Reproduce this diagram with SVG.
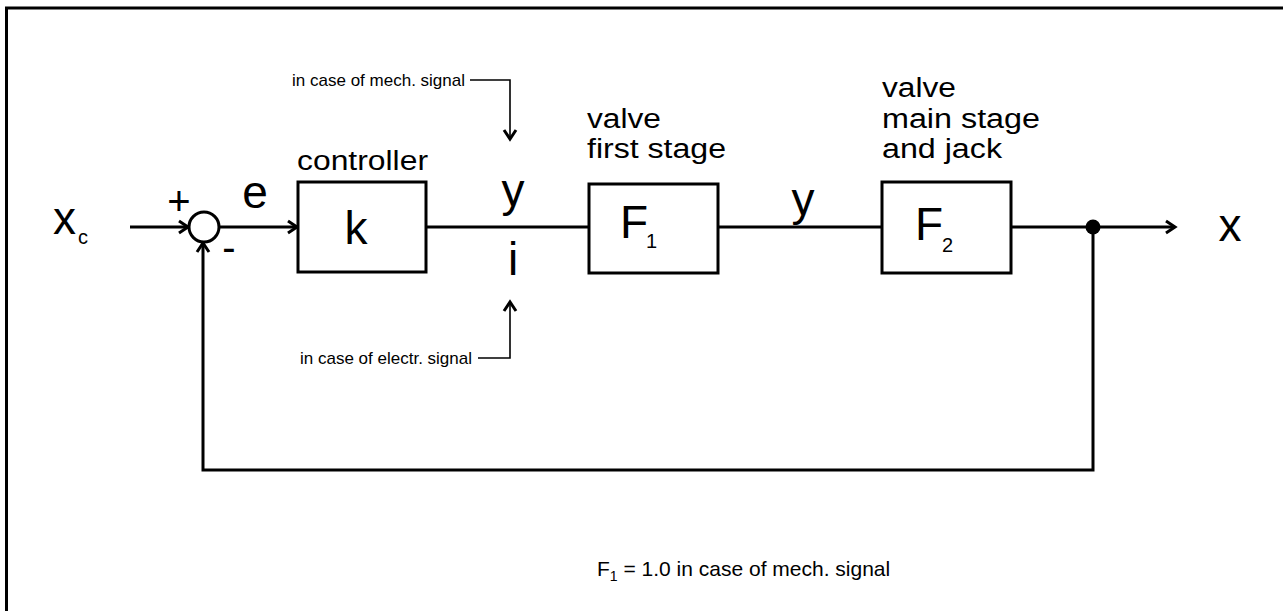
<svg xmlns="http://www.w3.org/2000/svg" width="1283" height="611" viewBox="0 0 1283 611">
<style>
.ln{fill:none;stroke:#000;stroke-width:3}
.thin{fill:none;stroke:#000;stroke-width:1.6}
.box{fill:#fff;stroke:#000;stroke-width:3}
.big{font-family:"Liberation Sans",Arial,sans-serif;font-size:46px;fill:#000}
.sub{font-family:"Liberation Sans",Arial,sans-serif;font-size:20px;fill:#000}
.lbl{font-family:"Liberation Sans",Arial,sans-serif;font-size:27px;fill:#000}
.sm{font-family:"Liberation Sans",Arial,sans-serif;font-size:17px;fill:#000}
.note{font-family:"Liberation Sans",Arial,sans-serif;font-size:21px;fill:#000}
</style>
<defs>
<marker id="ah" markerUnits="userSpaceOnUse" markerWidth="16" markerHeight="16" refX="12" refY="8" orient="auto">
<path d="M3,2 L12,8 L3,14" fill="none" stroke="#000" stroke-width="3"/>
</marker>
</defs>
<rect width="1283" height="611" fill="#fff"/>
<g id="frame">
<path d="M1283,8 L6.5,8 L6.5,611" class="ln"/>
</g>
<g id="connectors">
<line x1="130" y1="227" x2="188" y2="227" class="ln" marker-end="url(#ah)"/>
<line x1="219" y1="227" x2="297" y2="227" class="ln" marker-end="url(#ah)"/>
<line x1="426" y1="227" x2="589" y2="227" class="ln"/>
<line x1="718" y1="227" x2="882" y2="227" class="ln"/>
<line x1="1011" y1="227" x2="1175" y2="227" class="ln" marker-end="url(#ah)"/>
<path d="M1093,227 L1093,470 L203,470 L203,243" class="ln" marker-end="url(#ah)"/>
<path d="M470,80 L510,80 L510,139" class="thin" marker-end="url(#ah)"/>
<path d="M478,358 L510,358 L510,302" class="thin" marker-end="url(#ah)"/>
<circle cx="1093" cy="227" r="7.5" fill="#000"/>
</g>
<g id="sum">
<circle cx="204" cy="227" r="15" class="box"/>
<text x="179" y="215" class="big" text-anchor="middle" style="font-size:40px">+</text>
<text x="229" y="261" class="big" text-anchor="middle" style="font-size:40px">-</text>
</g>
<g id="input">
<text x="53" y="234" class="big">x</text>
<text x="78" y="244" class="sub">c</text>
</g>
<text x="255" y="208" class="big" text-anchor="middle">e</text>
<g id="controller">
<rect x="298" y="182" width="128" height="90" class="box"/>
<text x="356" y="244" class="big" text-anchor="middle">k</text>
<text x="297" y="170" class="lbl" textLength="131" lengthAdjust="spacingAndGlyphs">controller</text>
</g>
<g id="signal">
<text x="513" y="206" class="big" text-anchor="middle">y</text>
<text x="513" y="275" class="big" text-anchor="middle">i</text>
<text x="465" y="86" class="sm" text-anchor="end">in case of mech. signal</text>
<text x="472" y="364" class="sm" text-anchor="end">in case of electr. signal</text>
</g>
<g id="F1">
<rect x="589" y="184" width="129" height="89" class="box"/>
<text x="620" y="238" class="big">F</text>
<text x="646" y="248" class="sub">1</text>
<text x="587" y="128" class="lbl" textLength="74" lengthAdjust="spacingAndGlyphs">valve</text>
<text x="587" y="158" class="lbl" textLength="139" lengthAdjust="spacingAndGlyphs">first stage</text>
</g>
<text x="803" y="215" class="big" text-anchor="middle">y</text>
<g id="F2">
<rect x="882" y="182" width="129" height="91" class="box"/>
<text x="915" y="240" class="big">F</text>
<text x="942" y="252" class="sub">2</text>
<text x="882" y="97" class="lbl" textLength="74" lengthAdjust="spacingAndGlyphs">valve</text>
<text x="882" y="128" class="lbl" textLength="158" lengthAdjust="spacingAndGlyphs">main stage</text>
<text x="882" y="158" class="lbl" textLength="120" lengthAdjust="spacingAndGlyphs">and jack</text>
</g>
<g id="output">
<text x="1230" y="241" class="big" text-anchor="middle">x</text>
</g>
<g id="note">
<text x="597" y="576" class="note">F<tspan class="sub" style="font-size:14px" dy="5">1</tspan><tspan dy="-5"> = 1.0 in case of mech. signal</tspan></text>
</g>
</svg>
